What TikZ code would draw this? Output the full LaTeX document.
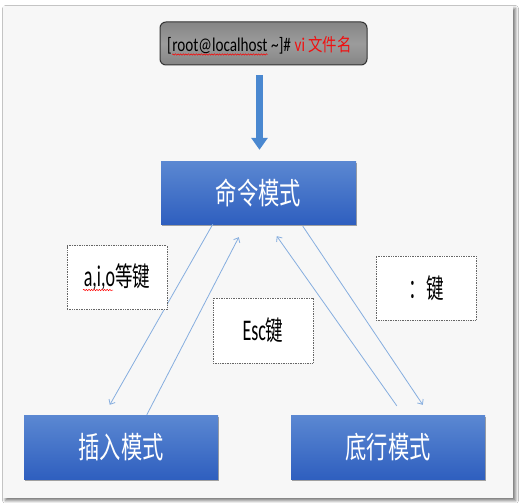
\documentclass[tikz,border=0pt]{standalone}
\usepackage{fontspec}
\setmainfont[FakeStretch=0.78]{Carlito}
\newfontfamily\latTop[FakeStretch=0.78]{Carlito}
\newfontfamily\latLbl[FakeStretch=0.6]{Carlito}
\newfontfamily\cjkBox[FakeStretch=0.71]{Noto Sans CJK SC}
\newfontfamily\cjkLbl[FakeStretch=0.65]{Noto Sans CJK SC}
\newfontfamily\cjkTop[FakeStretch=0.8]{Noto Sans CJK SC}
\newcommand\lbllat[1]{{\fontsize{30}{32}\selectfont\latLbl #1}}
\newcommand\lblcjk[1]{{\fontsize{27}{30}\selectfont\cjkLbl #1}}
\usetikzlibrary{arrows.meta,shadows,shadows.blur,calc,decorations.pathmorphing}
\definecolor{framefill}{HTML}{F7F7F7}
\definecolor{bluetop}{HTML}{5B88D2}
\definecolor{bluebot}{HTML}{2F5FBF}
\definecolor{connc}{HTML}{86AEDF}
\definecolor{bigarr}{HTML}{4A88D0}
\definecolor{graytop}{HTML}{858585}
\definecolor{graymid}{HTML}{9C9C9C}
\definecolor{redtxt}{HTML}{F01010}
\tikzset{
  bluebox/.style={rectangle, minimum width=194pt, minimum height=64pt, inner sep=0pt,
    top color=bluetop, bottom color=bluebot, draw=none, text=white,
    font=\fontsize{30}{32}\selectfont\cjkBox,
    drop shadow={shadow xshift=1pt, shadow yshift=-2pt, opacity=0.35, fill=black}},
  topbox/.style={rectangle, rounded corners=6pt, minimum width=207pt, minimum height=43pt,
    top color=graytop, bottom color=graytop, middle color=graymid, draw=black!80, line width=1pt, inner sep=0pt},
  toptxt/.style={anchor=base west, inner sep=0pt, font=\fontsize{19.5}{21}\selectfont\latTop},
  lbl/.style={rectangle, minimum width=100pt, minimum height=64pt, inner sep=0pt, fill=white,
    draw=black!60, densely dotted, line width=0.7pt},
  conn/.style={draw=connc, line width=0.8pt, -{Straight Barb[length=4pt,width=7pt]}},
  bigarrow/.style={draw=bigarr, line width=7pt, -{Triangle[length=12pt,width=16pt]}},
  wave/.style={draw=red, line width=0.5pt, decorate, decoration={snake, amplitude=0.7pt, segment length=2.6pt}}
}
\begin{document}
\begin{tikzpicture}[x=1pt,y=-1pt]
\useasboundingbox (0,0) rectangle (525,503);
\fill[white] (0,0) rectangle (525,503);
\fill[framefill, blur shadow={shadow blur radius=3pt, shadow xshift=2.5pt, shadow yshift=-2.5pt, shadow opacity=55}] (3,6) rectangle (513,498);

% top command box
\node[topbox] (top) at (263.5,43.5) {};
\node[toptxt] (p1) at (167,51.5) {[};
\node[toptxt] (p2) at (p1.base east) {root@localhost};
\node[toptxt] (p3) at (p2.base east) {\,\textasciitilde]\#};
\node[toptxt, text=redtxt] (p4) at (p3.base east) {\,vi\,{\fontsize{18}{20}\selectfont\cjkTop 文件名}};
\draw[wave] ($(p2.base west)+(0,3)$) -- ($(p2.base east)+(0,3)$);

% mode boxes
\node[bluebox, minimum width=195pt, minimum height=63pt] (cmd) at (258.5,192.5) {命令模式};
\node[bluebox] (ins) at (121,447) {插入模式};
\node[bluebox] (bot) at (388,447) {底行模式};

% main arrow
\draw[bigarrow, shorten <=10pt, shorten >=11pt] ($(top.south -| cmd.north)+(1,0)$) -- ($(cmd.north)+(1,0)$);

% connectors
\draw[conn] ($(cmd.south west)+(52,0)$) -- ($(ins.north west)+(86,-10)$);
\draw[conn] ($(ins.north west)+(123,0)$) -- ($(cmd.south west)+(78,13)$);
\draw[conn] ($(bot.north west)+(106,-9)$) -- ($(cmd.south west)+(116,12)$);
\draw[conn] ($(cmd.south west)+(142,2)$) -- ($(bot.north west)+(132,-10)$);

% labels
\node[lbl] (aio) at (117,277.5) {\lbllat{a,i,o}\lblcjk{等键}};
\node[lbl, minimum height=65pt] (esc) at (263,330.5) {\lbllat{Esc}\lblcjk{键}};
\node[lbl] (colon) at (426,288) {\lblcjk{：键}};
\draw[wave] ($(aio.center)+(-34,12.5)$) -- ($(aio.center)+(-4,12.5)$);
\end{tikzpicture}
\end{document}
